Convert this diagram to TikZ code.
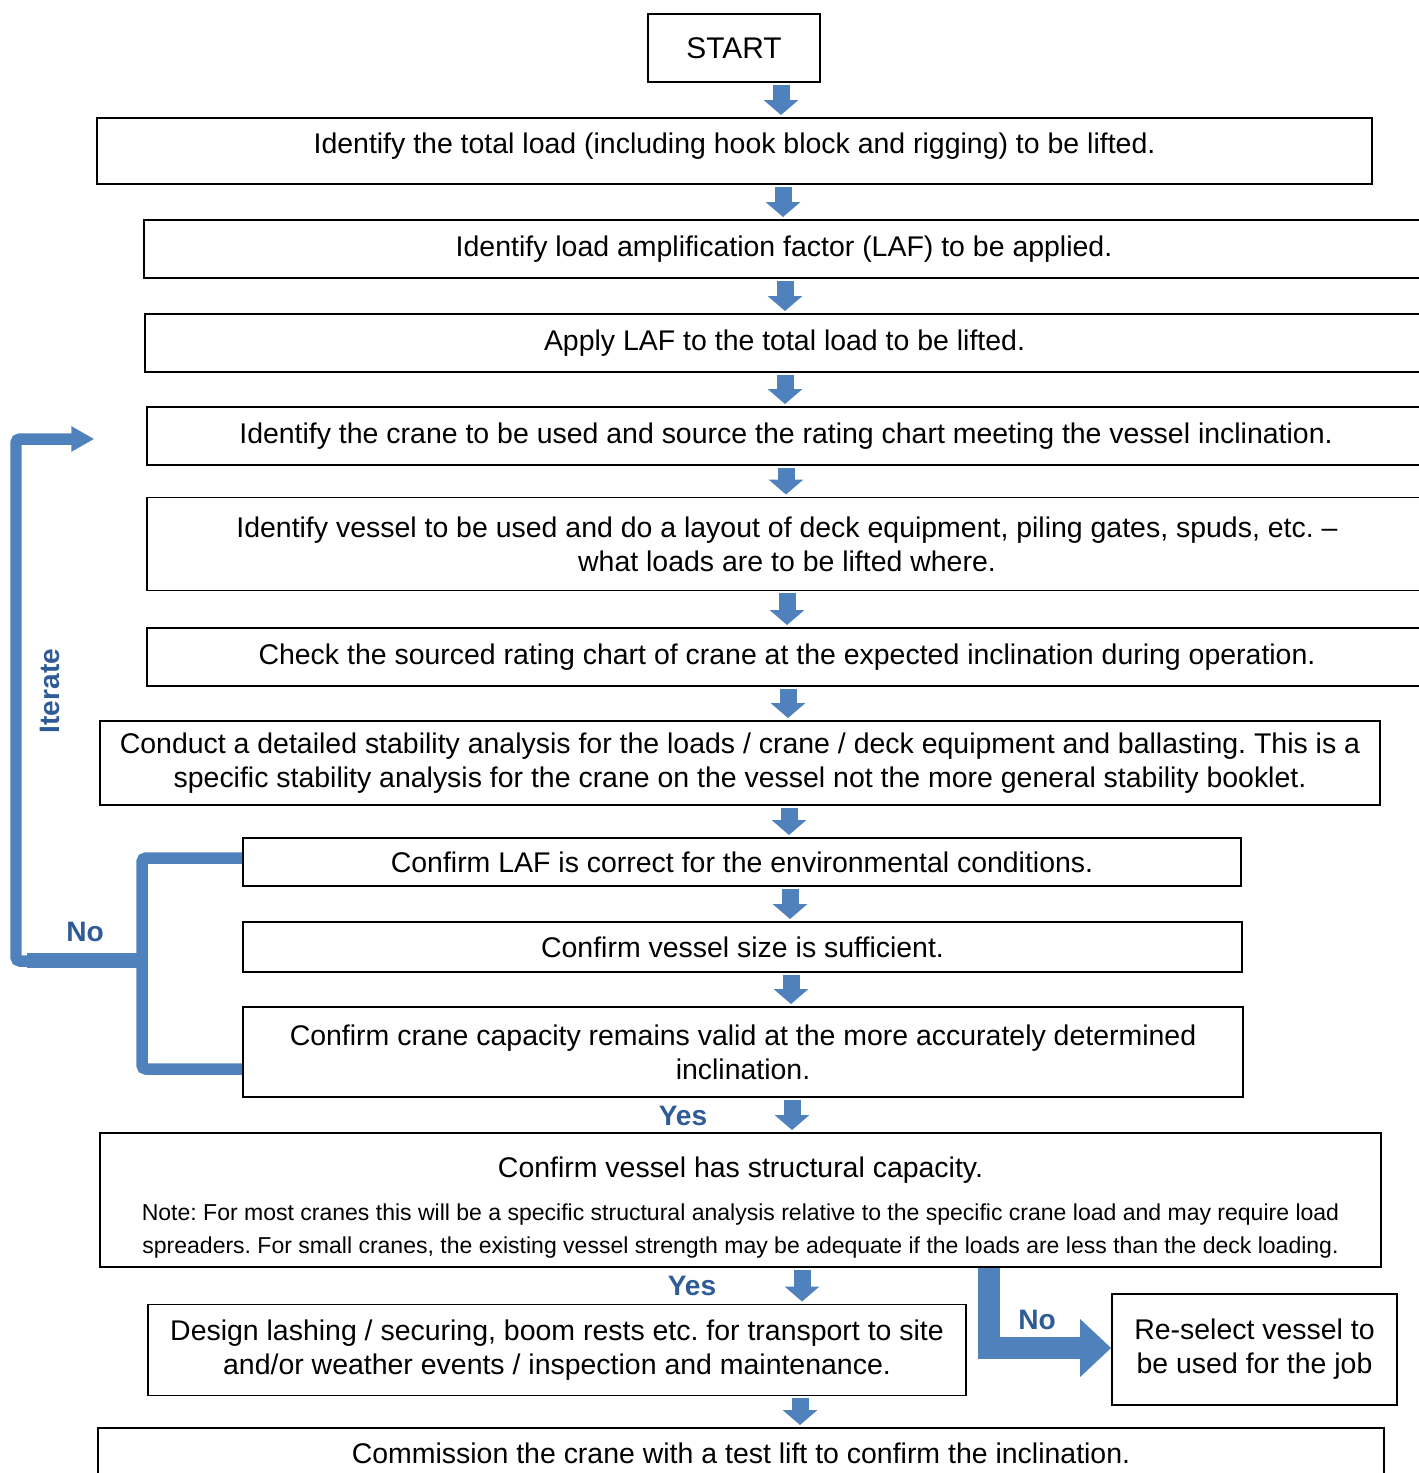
\documentclass[tikz,border=0pt]{standalone}
\usepackage{fontspec}
\setmainfont{Liberation Sans}
\usetikzlibrary{arrows.meta}
\definecolor{arrowblue}{RGB}{79,129,189}
\definecolor{labelblue}{RGB}{47,92,150}
\frenchspacing

\begin{document}
\begin{tikzpicture}[x=0.02cm, y=-0.02cm,
    down/.style={draw=arrowblue, line width=0.34cm, -{Triangle[width=0.68cm, length=0.3cm]}, shorten <=1.2pt, shorten >=1.2pt},
    loopline/.style={draw=arrowblue, line width=0.23cm, rounded corners=0.08cm},
    answer/.style={text=labelblue, font=\fontsize{16}{19.4}\selectfont\bfseries}]
  \useasboundingbox (0,0) rectangle (1418,1473);

  % Boxes
  \begin{scope}[every node/.style={draw, line width=1pt, inner sep=0pt, align=center, font=\fontsize{16.2}{19.4}\selectfont}]

    \node[minimum width=3.44cm, minimum height=1.36cm, font=\fontsize{17}{19.4}\selectfont] (start) at (734,48) {START};

    \node[minimum width=25.5cm, minimum height=1.32cm, text depth=9pt] (load) at (734.5,151) {Identify the total load (including hook block and rigging) to be lifted.};
    \node[minimum width=25.6cm, minimum height=1.16cm] (laf) at (784,249) {Identify load amplification factor (LAF) to be applied.};
    \node[minimum width=25.58cm, minimum height=1.16cm] (apply) at (784.5,343) {Apply LAF to the total load to be lifted.};
    \node[minimum width=25.56cm, minimum height=1.16cm] (crane) at (786,436) {Identify the crane to be used and source the rating chart meeting the vessel inclination.};
    \node[minimum width=25.6cm, minimum height=1.86cm] (vessel) at (787,544) {Identify vessel to be used and do a layout of deck equipment, piling gates, spuds, etc. --\\what loads are to be lifted where.};
    \node[minimum width=25.6cm, minimum height=1.16cm] (chart) at (787,657) {Check the sourced rating chart of crane at the expected inclination during operation.};
    \node[minimum width=25.6cm, minimum height=1.68cm] (stab) at (740,763) {Conduct a detailed stability analysis for the loads / crane / deck equipment and ballasting. This is a\\specific stability analysis for the crane on the vessel not the more general stability booklet.};

    \node[minimum width=19.96cm, minimum height=0.96cm] (conflaf) at (742,862) {Confirm LAF is correct for the environmental conditions.};
    \node[minimum width=19.98cm, minimum height=1.0cm] (confsize) at (742.5,947) {Confirm vessel size is sufficient.};
    \node[minimum width=20.0cm, minimum height=1.8cm] (confcap) at (743,1052) {Confirm crane capacity remains valid at the more accurately determined\\inclination.};

    \node[minimum width=25.62cm, minimum height=2.68cm] (struct) at (740.5,1200) {};

    \node[minimum width=16.36cm, minimum height=1.82cm] (lash) at (557,1350) {Design lashing / securing, boom rests etc. for transport to site\\and/or weather events / inspection and maintenance.};
    \node[minimum width=5.7cm, minimum height=2.22cm] (reselect) at (1254.5,1349.5) {Re-select vessel to\\be used for the job};

    \node[minimum width=25.72cm, minimum height=1.0cm] (commission) at (741,1453) {Commission the crane with a test lift to confirm the inclination.};

  \end{scope}

  % Texts inside the structural box
  \node[font=\fontsize{16.2}{19.4}\selectfont] (structtitle) at (740.5,1170) {Confirm vessel has structural capacity.};
  \node[align=center, font=\fontsize{13.1}{18.8}\selectfont] (structnote) at (740.5,1231) {Note: For most cranes this will be a specific structural analysis relative to the specific crane load and may require load\\spreaders. For small cranes, the existing vessel strength may be adequate if the loads are less than the deck loading.};

  % Straight
  \draw[down] (start.south -| 781,0) -- (load.north -| 781,0);
  \draw[down] (load.south -| 783,0) -- (laf.north -| 783,0);
  \draw[down] (laf.south -| 785,0) -- (apply.north -| 785,0);
  \draw[down] (apply.south -| 785,0) -- (crane.north -| 785,0);
  \draw[down] (crane.south -| 786,0) -- (vessel.north -| 786,0);
  \draw[down] (vessel.south -| 787,0) -- (chart.north -| 787,0);
  \draw[down] (chart.south -| 788,0) -- (stab.north -| 788,0);
  \draw[down] (stab.south -| 789,0) -- (conflaf.north -| 789,0);
  \draw[down] (conflaf.south -| 790,0) -- (confsize.north -| 790,0);
  \draw[down] (confsize.south -| 791,0) -- (confcap.north -| 791,0);
  \draw[down] (confcap.south -| 792,0) -- (struct.north -| 792,0);
  \draw[down] (struct.south -| 802,0) -- (lash.north -| 802,0);
  \draw[down] (lash.south -| 800,0) -- (commission.north -| 800,0);

  % Iterate loop
  \draw[loopline] (conflaf.west |- 0,858) -- (142,858) -- (142,1069) -- (confcap.west |- 0,1069);
  \draw[loopline, -{Triangle[width=0.48cm, length=0.46cm]}] (142,961) -- (16,961) -- (16,439) -- ([xshift=-1.04cm]crane.west |- 0,439);
  \draw[draw=arrowblue, line width=0.3cm] (142,960) -- (27,960);

  % No branch
  \draw[draw=arrowblue, line width=0.44cm, line join=miter, -{Triangle[width=1.12cm, length=0.62cm]}] (struct.south -| 989,0) -- (989,1348) -- (reselect.west |- 0,1348);

  % Labels
  \node[answer] (no1) at (85,932) {No};
  \node[answer, rotate=90] (iterate) at (50,691) {Iterate};
  \node[answer] (yes1) at (683,1116) {Yes};
  \node[answer] (yes2) at (692,1286) {Yes};
  \node[answer] (no2) at (1037,1320) {No};
\end{tikzpicture}
\end{document}
